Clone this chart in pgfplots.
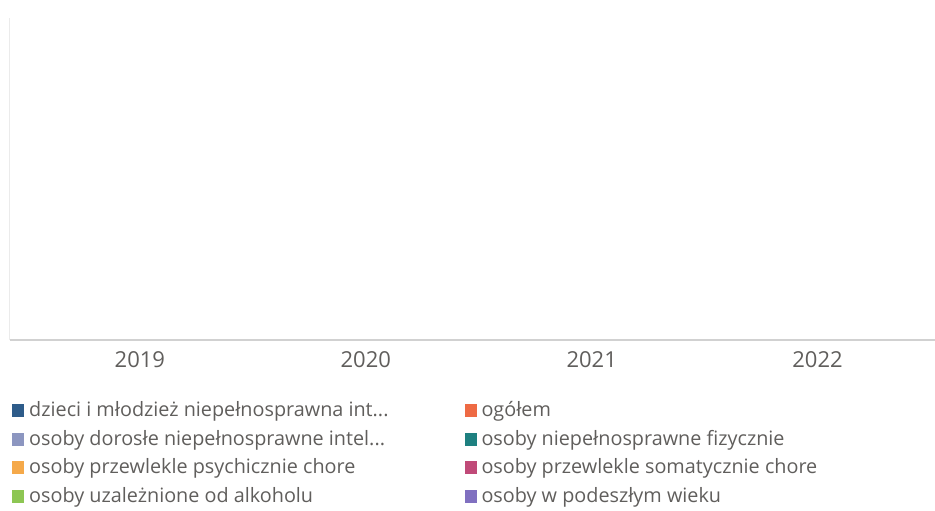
\documentclass[border=0pt]{standalone}
\usepackage{pgfplots}
\pgfplotsset{compat=1.18}
\usepackage{fontspec}
\setmainfont{Open Sans}
\definecolor{txt}{HTML}{605E5C}
\definecolor{c1}{HTML}{2E5C8A}
\definecolor{c2}{HTML}{8C96C0}
\definecolor{c3}{HTML}{F5A94A}
\definecolor{c4}{HTML}{8DC653}
\definecolor{c5}{HTML}{EE6A44}
\definecolor{c6}{HTML}{1E8080}
\definecolor{c7}{HTML}{C04A78}
\definecolor{c8}{HTML}{8070C0}
\begin{document}
\begin{tikzpicture}
\useasboundingbox (0,0) rectangle (467.5pt,-255pt);
\begin{axis}[
  at={(5pt,-170pt)}, anchor=south west,
  scale only axis, width=462.5pt, height=161pt,
  xmin=-0.575, xmax=3.52, ymin=0, ymax=1,
  axis x line*=bottom, axis y line*=left,
  x axis line style={draw=black!18, line width=0.9pt, -},
  y axis line style={draw=black!8, line width=0.5pt, -},
  xtick={0,1,2,3}, xticklabels={2019,2020,2021,2022},
  ytick=\empty, major tick length=0pt,
  xticklabel style={font=\fontsize{11}{13}\selectfont, text=txt, yshift=-2pt},
  /pgf/number format/assume math mode=true,
  ybar, bar width=6pt,
  legend columns=2,
  legend cell align=left,
  legend style={draw=none, fill=none, inner sep=0pt,
    at={(0.002,-0.178)}, anchor=north west,
    font=\fontsize{9.9}{12}\selectfont, text=txt,
    row sep=1.2pt,
    /tikz/every odd column/.append style={column sep=0.5pt},
    /tikz/every even column/.append style={column sep=36pt}},
  legend image code/.code={\fill[#1, fill opacity=1] (0pt,-3.3pt) rectangle (6pt,3.3pt);},
  every axis plot/.append style={fill opacity=0, draw=none},
]
\addplot[fill=c1] coordinates {(0,0) (1,0) (2,0) (3,0)};
\addlegendentry{dzieci i młodzież niepełnosprawna int...}
\addplot[fill=c5] coordinates {(0,0) (1,0) (2,0) (3,0)};
\addlegendentry{ogółem}
\addplot[fill=c2] coordinates {(0,0) (1,0) (2,0) (3,0)};
\addlegendentry{osoby dorosłe niepełnosprawne intel...}
\addplot[fill=c6] coordinates {(0,0) (1,0) (2,0) (3,0)};
\addlegendentry{osoby niepełnosprawne fizycznie}
\addplot[fill=c3] coordinates {(0,0) (1,0) (2,0) (3,0)};
\addlegendentry{osoby przewlekle psychicznie chore}
\addplot[fill=c7] coordinates {(0,0) (1,0) (2,0) (3,0)};
\addlegendentry{osoby przewlekle somatycznie chore}
\addplot[fill=c4] coordinates {(0,0) (1,0) (2,0) (3,0)};
\addlegendentry{osoby uzależnione od alkoholu}
\addplot[fill=c8] coordinates {(0,0) (1,0) (2,0) (3,0)};
\addlegendentry{osoby w podeszłym wieku}
\end{axis}
\end{tikzpicture}
\end{document}
